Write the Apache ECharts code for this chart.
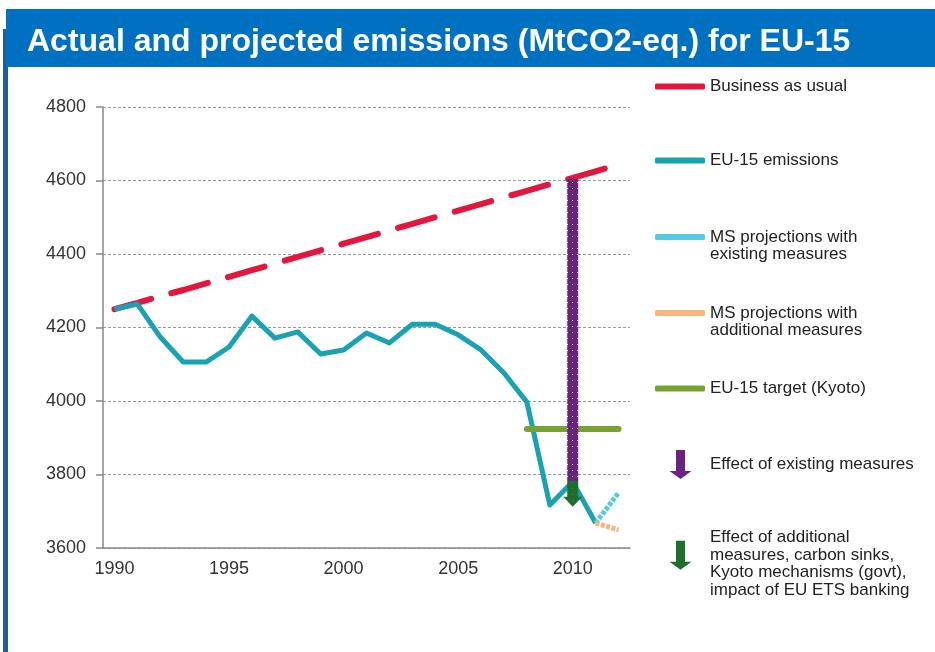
<!DOCTYPE html>
<html>
<head>
<meta charset="utf-8">
<script src="https://cdn.jsdelivr.net/npm/echarts@6/dist/echarts.min.js"></script>
<style>
  html, body { margin: 0; padding: 0; background: #fff; }
  #chart { width: 935px; height: 652px; }
</style>
</head>
<body>
<div id="chart"></div>
<script>
// years on the x axis
const years = ['1990', '1991', '1992', '1993', '1994', '1995', '1996', '1997', '1998', '1999', '2000',
    '2001', '2002', '2003', '2004', '2005', '2006', '2007', '2008', '2009', '2010', '2011', '2012']
const yTicks = [3600, 3800, 4000, 4200, 4400, 4600, 4800]

// series values (MtCO2-eq.)
const businessAsUsual = [4250, 4267, 4285, 4302, 4320, 4338, 4356, 4374, 4392, 4410, 4428, 4446,
    4464, 4482, 4500, 4518, 4536, 4554, 4572, 4590, 4607, 4625, 4643]
const eu15Emissions = [4250, 4264, 4174, 4106, 4106, 4147, 4231, 4171, 4188, 4128, 4139, 4185,
    4158, 4209, 4209, 4180, 4139, 4076, 3997, 3717, 3780, 3668, null]
const msExisting = [null, null, null, null, null, null, null, null, null, null, null, null,
    null, null, null, null, null, null, null, null, null, 3668, 3750]
const msAdditional = [null, null, null, null, null, null, null, null, null, null, null, null,
    null, null, null, null, null, null, null, null, null, 3668, 3649]
const kyotoTarget = [null, null, null, null, null, null, null, null, null, null, null, null,
    null, null, null, null, null, null, 3924, 3924, 3924, 3924, 3924]
// arrows: [year, from, to]
const existingEffect = [['2010', 4605, 3782]]
const additionalEffect = [['2010', 3782, 3712]]

const FONT = 'Liberation Sans'

// little dotted fill, like the arrows of the original
function dotPattern(bg, fg) {
    const c = document.createElement('canvas')
    c.width = 5
    c.height = 6
    const g = c.getContext('2d')
    g.fillStyle = bg
    g.fillRect(0, 0, 5, 6)
    g.fillStyle = fg
    g.fillRect(2, 2, 1, 1)
    return { image: c, repeat: 'repeat' }
}

function arrowItem(withHead, fill) {
    return function(params, api) {
        const top = api.coord([api.value(0), api.value(1)])
        const bot = api.coord([api.value(0), api.value(2)])
        const x = top[0]
        const hw = 5.5
        if (!withHead) {
            return {
                type: 'rect',
                shape: { x: x - hw, y: top[1], width: hw * 2, height: bot[1] - top[1] },
                style: { fill: fill }
            }
        }
        const hy = bot[1] - 10
        return {
            type: 'polygon',
            shape: {
                points: [[x - hw, top[1]], [x + hw, top[1]], [x + hw, hy], [x + 9.5, hy],
                    [x, bot[1]], [x - 9.5, hy], [x - hw, hy]]
            },
            style: { fill: fill }
        }
    }
}

const legendText = { color: '#222', fontSize: 17, fontFamily: FONT, lineHeight: 17 }
// a blank first line puts the icon level with the first text line
const blankFirst = name => ' \n' + name
function oneLegend(name, top, extra) {
    return Object.assign({
        data: [name],
        left: 655,
        top: top,
        orient: 'vertical',
        padding: 0,
        itemWidth: 50,
        itemHeight: 6,
        icon: 'roundRect',
        selectedMode: false,
        itemStyle: { borderWidth: 0 },
        textStyle: legendText
    }, extra || {})
}
// arrow icon inside a 50 x 29 box (empty corners keep the box size)
const arrowIcon = 'path://M0,0 L0,0 Z M50,29 L50,29 Z M21,0 L30,0 L30,21 L36.5,21 L25.5,29 L14.5,21 L21,21 Z'

const option = {
    animation: false,
    title: {
        text: 'Actual and projected emissions (MtCO2-eq.) for EU-15',
        left: 27,
        top: 26,
        padding: 0,
        textStyle: { color: '#fff', fontSize: 32, fontWeight: 'bold', fontFamily: FONT }
    },
    graphic: [
        { type: 'rect', left: 3, top: 29, shape: { width: 5, height: 623 }, style: { fill: '#1F5F96' }, z: 0 },
        { type: 'rect', left: 6, top: 9, shape: { width: 929, height: 58 }, style: { fill: '#0070C0' }, z: 0 }
    ],
    legend: [
        oneLegend('Business as usual', 78),
        oneLegend('EU-15 emissions', 152),
        oneLegend('MS projections with\nexisting measures', 211.5, { formatter: blankFirst }),
        oneLegend('MS projections with\nadditional measures', 287.5, { formatter: blankFirst }),
        oneLegend('EU-15 target (Kyoto)', 380),
        oneLegend('Effect of existing measures', 450, { icon: arrowIcon, itemHeight: 29 }),
        oneLegend('Effect of additional\nmeasures, carbon sinks,\nKyoto mechanisms (govt),\nimpact of EU ETS banking', 511.5, {
            icon: arrowIcon,
            itemHeight: 29,
            formatter: blankFirst,
            textStyle: Object.assign({}, legendText, { lineHeight: 17.5 })
        })
    ],
    grid: { left: 103, right: 305, top: 107, bottom: 104, containLabel: false },
    xAxis: {
        type: 'category',
        data: years,
        boundaryGap: true,
        axisLine: { lineStyle: { color: '#888', width: 1.5 } },
        axisTick: { interval: 0, length: 7, lineStyle: { color: '#888', width: 1.5 } },
        axisLabel: { interval: 4, margin: 12, color: '#333', fontSize: 18, fontFamily: FONT }
    },
    yAxis: {
        type: 'value',
        min: yTicks[0],
        max: yTicks[yTicks.length - 1],
        interval: 200,
        axisLine: { show: true, lineStyle: { color: '#888', width: 1.5 } },
        axisTick: { show: true, length: 7, lineStyle: { color: '#888', width: 1.5 } },
        axisLabel: { margin: 17, color: '#333', fontSize: 18, fontFamily: FONT, formatter: v => String(v) },
        splitLine: { lineStyle: { color: '#999', type: [3, 2], width: 1 } }
    },
    series: [
        {
            name: 'Business as usual',
            type: 'line',
            data: businessAsUsual,
            color: '#E3173E',
            symbol: 'none',
            z: 2,
            lineStyle: { width: 6, type: [38, 21], cap: 'round' }
        },
        {
            name: 'EU-15 emissions',
            type: 'line',
            data: eu15Emissions,
            color: '#19A2B4',
            symbol: 'none',
            z: 3,
            lineStyle: { width: 5, join: 'round' }
        },
        {
            name: 'MS projections with\nexisting measures',
            type: 'line',
            data: msExisting,
            color: '#52CCDC',
            symbol: 'none',
            z: 3,
            lineStyle: { width: 5, type: [4, 1.5] }
        },
        {
            name: 'MS projections with\nadditional measures',
            type: 'line',
            data: msAdditional,
            color: '#F6B67C',
            symbol: 'none',
            z: 3,
            lineStyle: { width: 5, type: [4, 1.5] }
        },
        {
            name: 'EU-15 target (Kyoto)',
            type: 'line',
            data: kyotoTarget,
            color: '#78A22F',
            symbol: 'none',
            z: 3,
            lineStyle: { width: 6, cap: 'round' }
        },
        {
            name: 'Effect of existing measures',
            type: 'custom',
            data: existingEffect,
            color: '#6C2280',
            z: 5,
            renderItem: arrowItem(false, dotPattern('#6C2280', '#ffffff'))
        },
        {
            name: 'Effect of additional\nmeasures, carbon sinks,\nKyoto mechanisms (govt),\nimpact of EU ETS banking',
            type: 'custom',
            data: additionalEffect,
            color: '#1E6E2C',
            z: 6,
            renderItem: arrowItem(true, dotPattern('#1E6E2C', '#3D8C48'))
        }
    ]
}

const chart = echarts.init(document.getElementById('chart'))
chart.setOption(option)
</script>
</body>
</html>
